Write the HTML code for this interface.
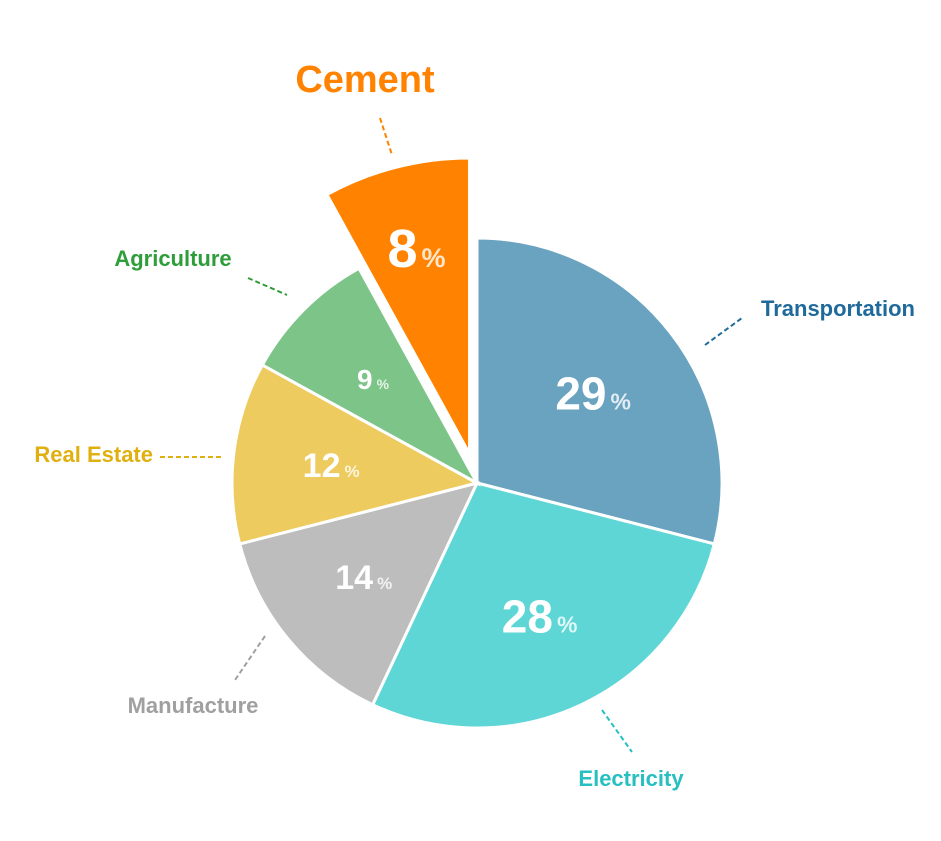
<!DOCTYPE html>
<html><head><meta charset="utf-8"><style>
body{margin:0;background:#fff;width:941px;height:836px;overflow:hidden}
text{font-family:"Liberation Sans",sans-serif;font-weight:bold}
</style></head><body>
<svg id="chart" width="941" height="836" viewBox="0 0 941 836"></svg>
<script>
const categories=["Transportation","Electricity","Manufacture","Real Estate","Agriculture","Cement"];
const values=[29,28,14,12,9,8];
const colors=["#6aa3bf","#5dd6d5","#bdbdbd","#eecb5e","#7cc488","#ff8300"];
const labelColors=["#1f6a9a","#27bfc0","#a0a0a0","#e0b010","#2e9e3a","#ff8300"];
const fontSizes=[46,46,34,34,28,54];
const explodedIndex=5;
const svg=document.getElementById('chart');
const NS='http://www.w3.org/2000/svg';
const cx=477,cy=483,R=245,RX=296,OFF=30;
const total=values.reduce((a,b)=>a+b,0);
function pt(x,y,r,a){return [x+r*Math.sin(a),y-r*Math.cos(a)];}
let acc=0;
values.forEach((v,i)=>{
  const a0=acc/total*2*Math.PI, a1=(acc+v)/total*2*Math.PI; acc+=v;
  const mid=(a0+a1)/2;
  let x=cx,y=cy,r=R;
  if(i===explodedIndex){x=cx+OFF*Math.sin(mid)*1.0;y=cy-OFF*Math.cos(mid);r=RX;}
  const p0=pt(x,y,r,a0),p1=pt(x,y,r,a1);
  const path=document.createElementNS(NS,'path');
  path.setAttribute('d',`M${x},${y}L${p0[0]},${p0[1]}A${r},${r} 0 ${a1-a0>Math.PI?1:0} 1 ${p1[0]},${p1[1]}Z`);
  path.setAttribute('fill',colors[i]);path.setAttribute('stroke','#fff');path.setAttribute('stroke-width','3');
  
  
  svg.appendChild(path);
  const lr=i===explodedIndex?r*0.72:r*0.6;
  const lp=pt(x,y,lr,mid);
  const t=document.createElementNS(NS,'text');
  t.setAttribute('x',lp[0]);t.setAttribute('y',lp[1]+fontSizes[i]*0.36);
  t.setAttribute('text-anchor','middle');t.setAttribute('fill','#fff');t.setAttribute('font-size',fontSizes[i]);
  
  
  t.innerHTML=v+'<tspan font-size="'+(fontSizes[i]*0.5)+'" fill-opacity="0.8" dx="4">%</tspan>';
  svg.appendChild(t);
});
// category callouts
const callouts=[
 {t:0,x:838,y:316,a:'middle',s:22,l:[705,345,742,318]},
 {t:1,x:631,y:786,a:'middle',s:22,l:[602,710,632,752]},
 {t:2,x:193,y:713,a:'middle',s:22,l:[265,636,235,680]},
 {t:3,x:153,y:462,a:'end',s:22,l:[160,457,222,457]},
 {t:4,x:173,y:266,a:'middle',s:22,l:[248,278,287,295]},
 {t:5,x:365,y:92,a:'middle',s:38,l:[380,118,392,155]}
];
callouts.forEach(c=>{
  const ln=document.createElementNS(NS,'line');
  ln.setAttribute('x1',c.l[0]);ln.setAttribute('y1',c.l[1]);ln.setAttribute('x2',c.l[2]);ln.setAttribute('y2',c.l[3]);
  ln.setAttribute('stroke',labelColors[c.t]);ln.setAttribute('stroke-width','2');ln.setAttribute('stroke-dasharray','5,3');
  
  
  svg.appendChild(ln);
  const t=document.createElementNS(NS,'text');
  t.setAttribute('x',c.x);t.setAttribute('y',c.y);t.setAttribute('text-anchor',c.a);
  t.setAttribute('font-size',c.s);t.setAttribute('fill',labelColors[c.t]);
  
  
  t.textContent=categories[c.t];
  svg.appendChild(t);
});
</script>
</body></html>
